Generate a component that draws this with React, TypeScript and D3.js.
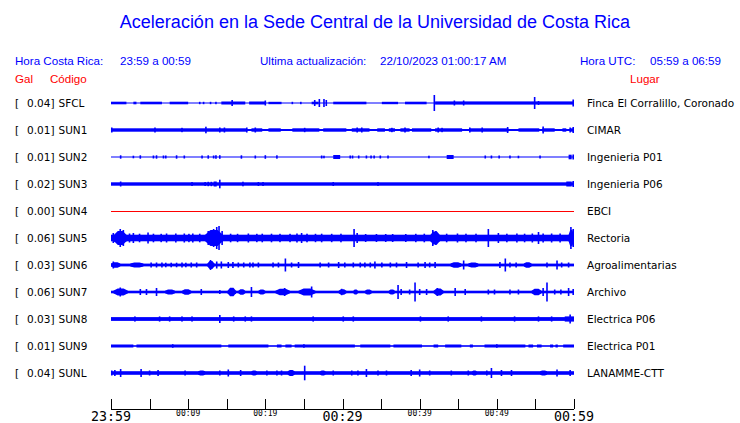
import React from "react";
import * as d3 from "d3";

const W = 740;
const H = 423;

const codes = ["SFCL", "SUN1", "SUN2", "SUN3", "SUN4", "SUN5", "SUN6", "SUN7", "SUN8", "SUN9", "SUNL"];
const gals = ["0.04", "0.01", "0.01", "0.02", "0.00", "0.06", "0.03", "0.06", "0.03", "0.01", "0.04"];
const places = [
  "Finca El Corralillo, Coronado",
  "CIMAR",
  "Ingenieria P01",
  "Ingenieria P06",
  "EBCI",
  "Rectoria",
  "Agroalimentarias",
  "Archivo",
  "Electrica P06",
  "Electrica P01",
  "LANAMME-CTT",
];

// half-thickness of the continuous trace, per station
const baseAmp = [0.5, 1.0, 0.5, 1.7, 0.5, 3.3, 1.4, 1.3, 1.9, 0.8, 1.8];
// stations whose bursts are spindle shaped
const taperRows = ["SUN5", "SUN6", "SUN7", "SUNL"];

// minute offsets of axis ticks (from 23:59)
const tickMinutes = [0, 5, 10, 15, 20, 25, 30, 35, 40, 45, 50, 55, 60];
const tickLabels = ["23:59", "", "00:09", "", "00:19", "", "00:29", "", "00:39", "", "00:49", "", "00:59"];
const bigLabels = ["23:59", "00:29", "00:59"];

// segments of thicker trace: [startMin, endMin, halfAmp]
const sfclSeg = [[0, 2.0, 1.3], [2.9, 3.3, 1.3], [3.8, 6.6, 1.3], [7.6, 10.0, 1.3], [14.3, 17.4, 1.5], [17.9, 20.0, 1.5], [20.4, 22.1, 1.2], [26.0, 26.9, 1.3], [28.8, 33.1, 1.3], [35.1, 37.2, 1.2], [38.1, 40.9, 1.3], [42.0, 59.9, 1.6]];
const sun1Seg = [[0, 17.6, 1.7], [18.2, 19.6, 1.7], [20.4, 22.0, 1.7], [23.5, 27.0, 1.7], [27.5, 30.5, 1.7], [31.2, 33.5, 1.7], [34.5, 35.5, 1.7], [36.0, 36.8, 1.7], [37.5, 38.7, 1.7], [39.0, 41.5, 1.7], [42.0, 45.5, 1.7], [46.5, 51.5, 1.7], [52.8, 55.5, 1.7], [55.9, 57.5, 1.7], [58.5, 59.0, 1.7], [59.5, 60, 1.7]];
const sun2Seg = [[28.8, 29.7, 2.0], [43.5, 44.4, 2.0], [59.3, 59.7, 2.3]];
const sun3Seg = [[13.3, 13.7, 2.5], [59.0, 59.7, 2.5]];
const sun4Seg: number[][] = [];
const sun5Seg = [[0.4, 2.0, 7], [12.2, 14.5, 8], [41.4, 42.6, 6.5], [59.3, 60, 8]];
const sun6Seg = [[0, 1.2, 2.8], [2.5, 4.2, 2.6], [12.5, 13.4, 4], [44.0, 45.4, 2.7], [46.3, 47.6, 2.5], [53.5, 54.5, 2.8]];
const sun7Seg = [[0.3, 2.2, 3.6], [7.0, 8.3, 2.5], [9.2, 10.4, 2.8], [15.1, 16.2, 4.2], [16.5, 17.4, 2.8], [19.1, 20.0, 2.4], [21.3, 23.2, 3.3], [24.3, 26.5, 3.5], [29.5, 30.5, 2.8], [31.4, 32.0, 2.4], [32.9, 33.8, 2.4], [36.0, 36.8, 2.4], [41.8, 43.1, 3.6], [54.5, 55.8, 3.2]];
const sun8Seg = [[58.8, 60, 2.6]];
const sun9Seg = [[0, 2.9, 1.5], [3.3, 14.3, 1.5], [15.2, 20.4, 1.5], [21.5, 22.1, 1.5], [22.6, 23.4, 1.5], [23.8, 31.6, 1.5], [32.3, 36.2, 1.5], [36.6, 40.3, 1.5], [41.8, 42.4, 1.5], [43.3, 45.4, 1.5], [46.5, 46.9, 1.5], [48.4, 53.7, 1.5], [54.1, 54.7, 1.5], [55.2, 55.8, 1.5], [56.9, 57.3, 1.5], [57.6, 57.9, 1.5], [58.6, 60, 1.5]];
const sunlSeg = [[11.3, 12.2, 2.6], [18.2, 18.9, 2.6], [22.9, 23.8, 3.0], [27.1, 27.8, 2.6], [46.8, 47.4, 2.6], [55.6, 56.5, 2.6]];

// isolated spikes: [minute, halfAmp]
const sfclSpk = [[11.5, 1.2], [12.0, 1.2], [12.9, 1.2], [13.6, 1.2], [15.7, 3], [20.0, 2.5], [23.5, 1.2], [24.6, 1.2], [26.4, 3], [27.0, 4], [27.6, 4], [27.9, 3], [41.9, 8], [44.5, 2.5], [45.7, 2.5], [54.9, 6], [55.4, 2], [60, 3.5]];
const sun1Spk = [[0.1, 2.5], [5.7, 2.5], [9.2, 2.2], [12.3, 3.3], [14.1, 2.5], [14.7, 2.5], [17.6, 2.5], [18.7, 2.5], [25.1, 2.2], [31.9, 2.5], [32.5, 2.5], [36.4, 2.2], [38.1, 2.5], [42.4, 2.5], [42.9, 2.2], [46.5, 2.5], [48.1, 2.5], [51.4, 3], [56.0, 3.5], [59.5, 2.5], [60, 3]];
const sun2Spk = [[1.25, 1.7], [2.9, 1.3], [3.8, 1.7], [5.5, 1.5], [5.9, 1.7], [6.8, 1.5], [7.1, 1.5], [8.5, 1.7], [9.5, 1.5], [11.8, 1.5], [12.6, 1.7], [13.3, 1.5], [13.6, 1.8], [14.1, 1.8], [16.9, 1.7], [18.7, 1.5], [20.0, 1.8], [21.5, 1.7], [27.3, 1.5], [27.6, 1.3], [31.0, 1.5], [31.3, 1.5], [32.1, 1.5], [33.1, 1.5], [33.7, 1.5], [34.1, 1.5], [34.9, 1.5], [35.9, 1.5], [41.2, 1.3], [48.5, 1.5], [49.3, 1.5], [50.3, 1.5], [51.7, 1.5], [52.8, 1.3], [55.6, 1.5], [60, 2.5]];
const sun3Spk = [[1.25, 2.5], [10.5, 2.0], [12.2, 2.0], [12.6, 2.2], [13.0, 2.2], [14.1, 4.3], [17.1, 2.3], [19.1, 2.0], [19.7, 2.0], [28.8, 2.0], [34.6, 1.9], [60, 3]];
const sun4Spk: number[][] = [];
const sun5Spk = [[0.3, 5], [1.2, 9], [1.6, 8], [2.4, 4.5], [2.9, 5], [3.7, 4.3], [4.8, 5.5], [5.5, 4.3], [6.5, 4.2], [7.2, 4.5], [8.4, 4.5], [9.5, 4.5], [10.1, 4.2], [10.6, 4.5], [11.5, 4.3], [12.6, 7], [13.3, 9], [13.7, 11], [14.0, 12], [14.4, 7], [15.5, 4.3], [16.4, 4.2], [17.8, 4.5], [18.9, 4.2], [19.6, 4.3], [20.8, 4.3], [21.9, 4.2], [23.2, 4.2], [24.1, 4.5], [24.7, 5], [25.4, 4.3], [26.5, 4.2], [27.3, 4.3], [28.6, 4.2], [29.8, 4.3], [31.5, 9], [31.9, 5], [33.0, 4], [34.4, 4], [35.6, 4], [36.5, 4], [38.2, 4], [39.5, 4.2], [40.6, 4.3], [41.7, 8], [42.1, 7], [43.5, 4.3], [44.9, 4.5], [46.0, 4.3], [47.3, 4.3], [48.9, 9], [50.2, 5], [51.3, 4.3], [52.6, 4.5], [53.6, 4.3], [54.6, 4.5], [55.4, 6], [56.0, 4.5], [57.1, 4.5], [58.2, 4.5], [59.6, 11], [60, 9]];
const sun6Spk = [[0.3, 3.5], [5.2, 2.5], [5.9, 2.5], [6.6, 2.5], [7.1, 2.3], [7.8, 2.3], [8.5, 2.3], [9.2, 2.5], [9.7, 2.3], [10.4, 2.5], [11.1, 2.5], [12.9, 5], [13.7, 3.5], [14.3, 3.5], [15.2, 3], [15.8, 3], [16.5, 2.5], [17.2, 2.5], [18.0, 2.5], [18.4, 2.5], [19.1, 2.5], [21.0, 2.5], [21.7, 2.5], [22.6, 6.5], [23.4, 2.5], [24.3, 3], [27.1, 2.5], [28.2, 2.5], [29.5, 3], [30.3, 2.5], [31.4, 2.5], [32.3, 2.5], [32.9, 2.5], [33.6, 2.5], [34.2, 3.5], [35.1, 2.5], [36.2, 2.5], [37.0, 2.5], [38.3, 3], [39.8, 2.5], [40.7, 3], [41.3, 2.5], [42.0, 3], [45.7, 4.5], [50.4, 3], [51.1, 6.5], [51.7, 2.5], [52.5, 2.5], [56.5, 2.5], [57.8, 4.5], [58.4, 2.5], [59.3, 2.5]];
const sun7Spk = [[1.2, 4.5], [3.8, 3], [4.6, 3], [5.9, 4], [11.7, 3], [14.1, 2], [18.2, 5], [22.5, 4], [26.0, 5.5], [29.9, 3.2], [37.2, 7], [37.6, 3], [38.7, 2.5], [39.4, 9.5], [40.0, 3], [40.9, 3], [42.3, 4], [44.6, 4], [45.9, 3], [48.9, 2.5], [49.7, 2.5], [51.7, 2.5], [52.8, 2.5], [56.5, 9.5], [56.0, 4], [57.5, 2.5], [58.3, 2.5], [59.3, 4], [59.9, 3]];
const sun8Spk = [[3.1, 2.6], [6.3, 2.6], [7.6, 2.6], [9.2, 2.6], [10.5, 2.6], [14.1, 4], [15.9, 2.6], [17.4, 2.6], [18.2, 2.6], [26.2, 2.6], [30.1, 2.6], [31.4, 2.6], [40.1, 2.6], [43.7, 2.6], [48.0, 2.6], [52.3, 2.6], [55.4, 2.6], [57.1, 2.6], [59.5, 4.5]];
const sun9Spk = [[8.0, 1.8], [25.0, 1.8], [50.0, 1.8]];
const sunlSpk = [[0.1, 2.5], [0.5, 3], [1.25, 4], [3.9, 4], [5.0, 2.5], [6.1, 3], [9.6, 2.5], [14.1, 2.5], [15.2, 3.5], [16.8, 3], [20.2, 2.5], [21.5, 2.5], [22.1, 2.5], [25.1, 7.3], [28.8, 2.5], [31.2, 2.5], [32.0, 2.5], [33.1, 4], [34.6, 2.5], [35.7, 2.5], [38.9, 3], [40.0, 3.5], [41.3, 2.5], [44.1, 2.5], [46.3, 2.5], [48.7, 2.5], [49.3, 5], [50.6, 3], [51.9, 3], [57.8, 3.5], [59.5, 3]];

const segList = [sfclSeg, sun1Seg, sun2Seg, sun3Seg, sun4Seg, sun5Seg, sun6Seg, sun7Seg, sun8Seg, sun9Seg, sunlSeg];
const spkList = [sfclSpk, sun1Spk, sun2Spk, sun3Spk, sun4Spk, sun5Spk, sun6Spk, sun7Spk, sun8Spk, sun9Spk, sunlSpk];

const BLUE = "#0000ff";
const RED = "#ff0000";
const labelFont = "'DejaVu Sans', sans-serif";
const headFont = "'Liberation Sans', Arial, sans-serif";

export default function App() {
  const x = d3.scaleLinear().domain([0, 60]).range([111, 574]);
  const y = d3.scalePoint<string>().domain(codes).range([103, 373]);
  const amp = d3.scaleLinear().domain([0, 10]).range([0, 10]);

  const axisY = 409;

  const spindle = (s: number[], cy: number, base: number) => {
    const x0 = x(s[0]);
    const x1 = x(s[1]);
    const w = x1 - x0;
    const a = amp(s[2]);
    const b = amp(base);
    const pts: [number, number][] = [
      [x0, cy - b],
      [x0 + w * 0.3, cy - a],
      [x1 - w * 0.3, cy - a],
      [x1, cy - b],
      [x1, cy + b],
      [x1 - w * 0.3, cy + a],
      [x0 + w * 0.3, cy + a],
      [x0, cy + b],
    ];
    return d3.line()(pts) + "Z";
  };

  return (
    <svg width={W} height={H} style={{ position: "absolute", left: 0, top: 0, background: "#fff" }}>
      <rect x={0} y={0} width={W} height={H} fill="#fff" />
      <text x={375} y={28} textAnchor="middle" fill={BLUE} fontFamily={headFont} fontSize={18}>
        Aceleración en la Sede Central de la Universidad de Costa Rica
      </text>
      <text x={15} y={65} fill={BLUE} fontFamily={headFont} fontSize={11.6}>Hora Costa Rica:</text>
      <text x={120} y={65} fill={BLUE} fontFamily={headFont} fontSize={11.6}>23:59 a 00:59</text>
      <text x={260} y={65} fill={BLUE} fontFamily={headFont} fontSize={11.6}>Ultima actualización:</text>
      <text x={380} y={65} fill={BLUE} fontFamily={headFont} fontSize={11.6}>22/10/2023 01:00:17 AM</text>
      <text x={580} y={65} fill={BLUE} fontFamily={headFont} fontSize={11.6}>Hora UTC:</text>
      <text x={650} y={65} fill={BLUE} fontFamily={headFont} fontSize={11.6}>05:59 a 06:59</text>
      <text x={15} y={83} fill={RED} fontFamily={headFont} fontSize={11.6}>Gal</text>
      <text x={50} y={83} fill={RED} fontFamily={headFont} fontSize={11.6}>Código</text>
      <text x={630} y={83} fill={RED} fontFamily={headFont} fontSize={11.6}>Lugar</text>

      {codes.map((c, i) => {
        const cy = y(c) as number;
        const isFlat = c === "SUN4";
        const taper = taperRows.includes(c);
        return (
          <g key={c}>
            <text x={15} y={cy + 4} fontFamily={labelFont} fontSize={10.5} fill="#000">[</text>
            <text x={54.5} y={cy + 4} fontFamily={labelFont} fontSize={10.5} fill="#000" textAnchor="end">{gals[i] + "]"}</text>
            <text x={58.5} y={cy + 4} fontFamily={labelFont} fontSize={10.5} fill="#000">{c}</text>
            <text x={587} y={cy + 4} fontFamily={labelFont} fontSize={10.5} fill="#000">{places[i]}</text>
            {isFlat ? (
              <line x1={x(0)} x2={x(60)} y1={cy + 0.5} y2={cy + 0.5} stroke={RED} strokeWidth={1} />
            ) : (
              <g fill={BLUE}>
                <rect x={x(0)} width={x(60) - x(0)} y={cy - amp(baseAmp[i])} height={Math.max(1, 2 * amp(baseAmp[i]))} />
                {segList[i].map((s, k) =>
                  taper ? (
                    <path key={"s" + k} d={spindle(s, cy, baseAmp[i])} />
                  ) : (
                    <rect key={"s" + k} x={x(s[0])} width={Math.max(1.5, x(s[1]) - x(s[0]))} y={cy - amp(s[2])} height={2 * amp(s[2])} />
                  )
                )}
                {spkList[i].map((s, k) => (
                  <rect key={"p" + k} x={Math.min(x(s[0]) - 0.8, x(60) - 1.6)} width={1.6} y={cy - amp(s[1])} height={2 * amp(s[1])} />
                ))}
              </g>
            )}
          </g>
        );
      })}

      <g>
        <line x1={x(0)} x2={x(60)} y1={axisY + 0.5} y2={axisY + 0.5} stroke="#000" strokeWidth={1} />
        {tickMinutes.map((m, i) => (
          <g key={m}>
            <line x1={Math.round(x(m)) + 0.5} x2={Math.round(x(m)) + 0.5} y1={axisY - 10} y2={axisY} stroke="#000" strokeWidth={1} />
            {tickLabels[i] !== "" && (
              bigLabels.includes(tickLabels[i]) ? (
                <text x={x(m)} y={421} textAnchor="middle" fontFamily="'DejaVu Sans Mono', monospace" fontSize={13.3} fill="#000">{tickLabels[i]}</text>
              ) : (
                <text x={x(m)} y={416} textAnchor="middle" fontFamily="'DejaVu Sans Mono', monospace" fontSize={8} fill="#000">{tickLabels[i]}</text>
              )
            )}
          </g>
        ))}
      </g>
    </svg>
  );
}
